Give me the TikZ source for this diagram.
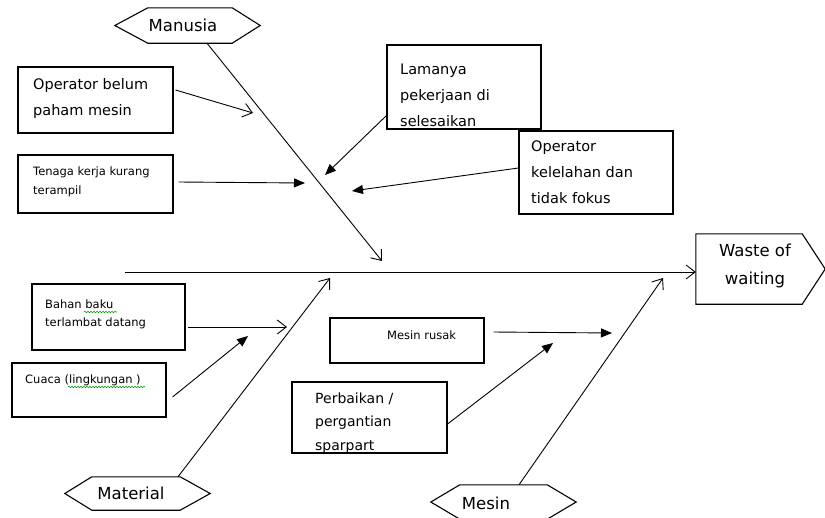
\documentclass[tikz,border=0pt]{standalone}
\usepackage{fontspec}
\setmainfont{DejaVu Sans}
\usetikzlibrary{arrows.meta,calc,fit,decorations.pathmorphing}
\begin{document}
\begin{tikzpicture}[x=1pt,y=-1pt,
  box/.style={draw, line width=1.1pt, inner sep=0pt},
  ln/.style={line width=0.9pt},
  openarr/.style={ln, -{Straight Barb[length=9pt,width=14pt,line width=0.9pt]}},
  fillarr/.style={ln, -{Triangle[length=11pt,width=9pt]}},
  bigtxt/.style={anchor=west, align=left, inner sep=0pt, font=\fontsize{14.5}{26}\selectfont},
  smalltxt/.style={anchor=west, align=left, inner sep=0pt, font=\fontsize{11.5}{19}\selectfont},
  hextxt/.style={inner sep=0pt, font=\fontsize{16.5}{28}\selectfont},
  hexbase/.style={inner sep=0pt, minimum width=145pt},
  wavy/.style={draw=green!60!black, line width=0.6pt, decorate, decoration={snake, segment length=3pt, amplitude=0.7pt}}
]
\useasboundingbox (0,0) rectangle (825,517);
\clip (0,0) rectangle (825,517);

% category hexagons
\node[hexbase, minimum height=35pt] (manusia) at (187.5,25.5) {};
\draw[box] (manusia.west) -- ([xshift=33pt]manusia.north west) -- ([xshift=-28pt]manusia.north east) -- (manusia.east) -- ([xshift=-28pt]manusia.south east) -- ([xshift=33pt]manusia.south west) -- cycle;
\node[hextxt] (manusiaL) at (183,25) {Manusia};

\node[hexbase, minimum height=33pt] (material) at (137.5,493.5) {};
\draw[box] (material.west) -- ([xshift=27pt]material.north west) -- ([xshift=-30pt]material.north east) -- (material.east) -- ([xshift=-30pt]material.south east) -- ([xshift=27pt]material.south west) -- cycle;
\node[hextxt] (materialL) at (131,493) {Material};

\node[hexbase, minimum height=34pt] (mesin) at (503.5,502) {};
\draw[box] (mesin.west) -- ([xshift=29pt]mesin.north west) -- ([xshift=-29pt]mesin.north east) -- (mesin.east) -- ([xshift=-29pt]mesin.south east) -- ([xshift=29pt]mesin.south west) -- cycle;
\node[hextxt] (mesinL) at (486,503) {Mesin};

% effect
\node[inner sep=0pt, minimum width=106pt, minimum height=70pt] (waste) at (749,269) {};
\draw[box] (waste.north west) -- (waste.north east) -- ([xshift=23pt]waste.east) -- (waste.south east) -- (waste.south west) -- cycle;
\node[hextxt, align=center] (wasteL) at (755,266) {Waste of\\waiting};

% cause boxes
\node[box, fit={(18,67) (173,133)}] (b1) {};
\node[box, fit={(18,155) (173,213)}] (b2) {};
\node[box, fit={(387,45) (541,129)}] (b3) {};
\node[box, fit={(519,131) (673,214)}] (b4) {};
\node[box, fit={(32,284) (185,350)}] (b5) {};
\node[box, fit={(12,363) (166,417)}] (b6) {};
\node[box, fit={(330,318) (484,363)}] (b7) {};
\node[box, fit={(292,382) (447,453)}] (b8) {};

\node[bigtxt] (b1t) at (33,98) {Operator belum\\paham mesin};
\node[smalltxt] (b2t) at (33,182) {Tenaga kerja kurang\\terampil};
\node[bigtxt] (b3t) at (400,95) {Lamanya\\pekerjaan di\\selesaikan};
\node[bigtxt] (b4t) at (531,172) {Operator\\kelelahan dan\\tidak fokus};
\node[smalltxt, font=\fontsize{11.5}{18}\selectfont] (b5t) at (45,314) {Bahan baku\\terlambat datang};
\node[smalltxt] (b6t) at (25,380) {Cuaca (lingkungan )};
\node[smalltxt] (b7t) at (387,335) {Mesin rusak};
\node[bigtxt, font=\fontsize{14}{23.5}\selectfont] (b8t) at (315,423) {Perbaikan /\\pergantian\\sparpart};

% spell-check underlines
\draw[wavy] (84,312) -- (117,312);
\draw[wavy] (68,387) -- (145,387);

% free ends
\coordinate (t1) at (382,261);
\coordinate (t2) at (253,113);
\coordinate (t3) at (305,183);
\coordinate (t4) at (325,175);
\coordinate (t5) at (352,191);
\coordinate (s0) at (125,272);
\coordinate (t7) at (287,327);
\coordinate (t8) at (248,336);
\coordinate (t9) at (330,278);
\coordinate (t10) at (612,333);
\coordinate (t11) at (553,343);
\coordinate (t12) at (663,278);

% connectors
\draw[openarr] ($(manusia.south)+(19.5,0)$) -- (t1);
\draw[openarr] ($(b1.east)+(2,-10)$) -- (t2);
\draw[fillarr] ($(b2.east)+(5,-2)$) -- (t3);
\draw[fillarr] ($(b3.south west)+(0,-14)$) -- (t4);
\draw[fillarr] ($(b4.west)+(0,-4.5)$) -- (t5);
\draw[openarr] (s0) -- ($(waste.west)+(0,3)$);
\draw[openarr] ($(b5.east)+(2,10)$) -- (t7);
\draw[fillarr] ($(b6.east)+(6,7)$) -- (t8);
\draw[openarr] ($(material.north)+(40.5,0)$) -- (t9);
\draw[fillarr] ($(b7.east)+(9,-8.5)$) -- (t10);
\draw[fillarr] ($(b8.east)+(0,6.5)$) -- (t11);
\draw[openarr] ($(mesin.north)+(15.5,0)$) -- (t12);
\end{tikzpicture}
\end{document}
